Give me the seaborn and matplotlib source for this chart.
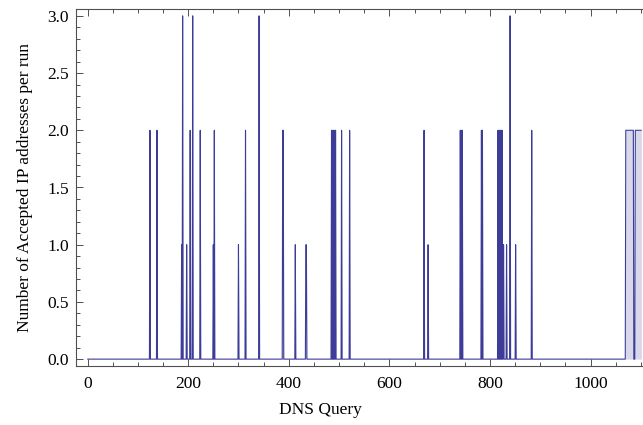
import numpy as np
import pandas as pd
import matplotlib
matplotlib.use("Agg")
import matplotlib.pyplot as plt
from matplotlib.ticker import MultipleLocator, FormatStrFormatter
import seaborn as sns

# ---- data ----
query_count = 1101
spike_x = [124, 138, 187, 189, 197, 204, 209, 224, 250, 252, 300, 314, 341,
           388, 389, 413, 434, 435, 485, 487, 489, 491, 493, 505, 521,
           669, 677, 741, 743, 745, 783, 785, 816, 818, 820, 822, 824,
           827, 833, 840, 851, 883]
spike_y = [2, 2, 1, 3, 1, 2, 3, 2, 1, 2, 1, 2, 3,
           2, 2, 1, 1, 1, 2, 2, 2, 2, 2, 2, 2,
           2, 1, 2, 2, 2, 2, 2, 2, 2, 2, 2, 2,
           1, 1, 3, 1, 2]
block_start = [1070, 1089]
block_end = [1085, 1101]
block_value = [2, 2]

x_label = "DNS Query"
y_label = "Number of Accepted IP addresses per run"
x_ticks = [0, 200, 400, 600, 800, 1000]
y_ticks = [0.0, 0.5, 1.0, 1.5, 2.0, 2.5, 3.0]

# ---- build series ----
queries = np.arange(0, query_count + 1)
accepted = np.zeros(len(queries))
for sx, sy in zip(spike_x, spike_y):
    accepted[sx] = sy
for b0, b1, bv in zip(block_start, block_end, block_value):
    accepted[b0:b1 + 1] = bv
df = pd.DataFrame({"query": queries, "accepted": accepted})

# ---- style ----
sns.set_theme(style="white")
plt.rcParams["font.family"] = ["Liberation Serif", "DejaVu Serif"]
plt.rcParams["mathtext.fontset"] = "stix"

line_color = "#3D3D99"
frame_color = "#505050"

fig = plt.figure(figsize=(6.43, 4.25), dpi=100)
ax_left = 76 / 643
ax_bottom = (425 - 366) / 425
ax_height = (366 - 9) / 425
ax_width = (1150 * 0.503) / 643
ax = fig.add_axes([ax_left, ax_bottom, ax_width, ax_height])

ax.fill_between(df["query"], df["accepted"], 0, color=line_color,
                alpha=0.2, linewidth=0)
sns.lineplot(data=df, x="query", y="accepted", ax=ax, color=line_color,
             linewidth=0.8, estimator=None, sort=False, legend=False)

ax.set_xlim(-23, 1127)
ax.set_ylim(-0.06, 3.06)

ax.set_xticks(x_ticks)
ax.set_yticks(y_ticks)
ax.xaxis.set_minor_locator(MultipleLocator(50))
ax.yaxis.set_minor_locator(MultipleLocator(0.1))
ax.yaxis.set_major_formatter(FormatStrFormatter("%.1f"))

ax.tick_params(axis="both", which="both", direction="in", top=True,
               right=True, bottom=True, left=True, color=frame_color,
               width=0.7, labelsize=12.5, labelcolor="black")
ax.tick_params(axis="both", which="major", length=4.8)
ax.tick_params(axis="both", which="minor", length=2.9)
ax.tick_params(axis="x", which="major", pad=7)
ax.tick_params(axis="y", which="major", pad=5)

for s in ax.spines.values():
    s.set_color(frame_color)
    s.set_linewidth(0.8)

ax.set_xlabel(x_label, fontsize=12.5, color="black")
ax.set_ylabel(y_label, fontsize=12.5, color="black")
ax.xaxis.set_label_coords((320 - 76) / (1150 * 0.503), -0.10)
ax.yaxis.set_label_coords(-0.075, 0.5)
ax.grid(False)

fig.savefig("out.png", dpi=100)
